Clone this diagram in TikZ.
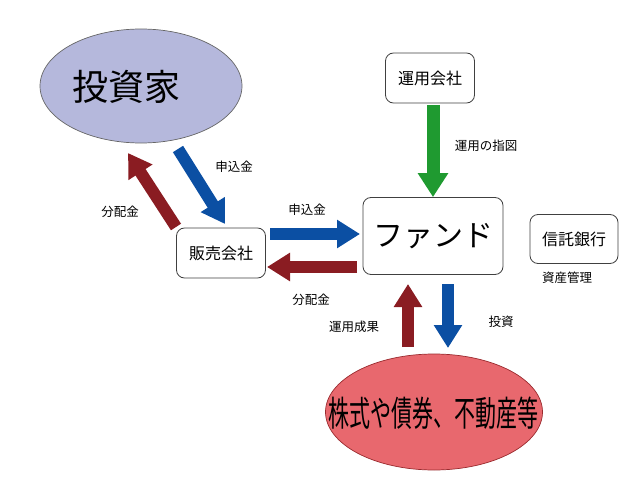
\documentclass[tikz,border=0pt]{standalone}
\usepackage{fontspec}
\usepackage{graphicx}
\setmainfont{Noto Sans CJK JP}
\usetikzlibrary{arrows.meta,shapes.geometric}
\definecolor{invfill}{HTML}{B5B8DC}
\definecolor{assetfill}{HTML}{E8686E}
\definecolor{assetline}{HTML}{9A2A2E}
\definecolor{ablue}{HTML}{0B4FA3}
\definecolor{ared}{HTML}{8A1C22}
\definecolor{agreen}{HTML}{1F9A30}
\tikzset{
  box/.style={draw=black!75, line width=0.8pt, rounded corners=8pt, fill=white, inner sep=0pt},
  lbl/.style={font=\fontsize{12.5}{14}\selectfont, inner sep=0pt},
  fat/.style={line width=12pt, -{Triangle[width=27pt,length=23pt]}},
}
\begin{document}
\begin{tikzpicture}[x=1pt,y=-1pt]
\useasboundingbox (0,0) rectangle (643,503);
% investor
\node[ellipse, draw=black!60, line width=0.7pt, fill=invfill, minimum width=202pt, minimum height=114pt, inner sep=0pt] (inv) at (141,86) {};
\node[font=\fontsize{36}{40}\selectfont, inner sep=0pt] (invt) at (126,87) {投資家};
% boxes
\node[box, minimum width=89pt, minimum height=50pt, font=\fontsize{16}{18}\selectfont] (sales) at (221,253) {販売会社};
\node[box, minimum width=140pt, minimum height=77pt, font=\fontsize{30}{34}\selectfont] (fund) at (433,236) {ファンド};
\node[box, minimum width=89pt, minimum height=50pt, font=\fontsize{16}{18}\selectfont] (unyo) at (430,78) {運用会社};
\node[box, minimum width=88pt, minimum height=49pt, font=\fontsize{16}{18}\selectfont] (trust) at (574,239) {信託銀行};
\node[lbl] (tl) at (567,278) {資産管理};
% assets
\node[ellipse, draw=assetline, line width=0.7pt, fill=assetfill, minimum width=217pt, minimum height=116pt, inner sep=0pt] (asset) at (434,412) {};
\node[inner sep=0pt] (assett) at (433,413) {\scalebox{0.6}[1]{\fontsize{35}{40}\selectfont 株式や債券、不動産等}};
% arrow coordinates
\coordinate (a1s) at (178,149); \coordinate (a1e) at (225,224);
\coordinate (a2s) at (176,227); \coordinate (a2e) at (128,153);
\coordinate (a3s) at (270,234); \coordinate (a3e) at (360,234);
\coordinate (a4s) at (357,267); \coordinate (a4e) at (267,267);
\coordinate (a5s) at (408,347); \coordinate (a5e) at (408,284);
\coordinate (a6s) at (448,284); \coordinate (a6e) at (448,348);
% arrows
\draw[fat, ablue] (a1s) -- (a1e);
\draw[fat, ared] (a2s) -- (a2e);
\draw[fat, ablue] (a3s) -- (a3e);
\draw[fat, ared] (a4s) -- (a4e);
\draw[fat, ared] (a5s) -- (a5e);
\draw[fat, ablue] (a6s) -- (a6e);
\draw[ agreen, line width=13pt, -{Triangle[width=29pt,length=24pt]}] (unyo.south -| fund.north) ++(0,2) -- (fund.north);
% labels
\node[lbl] (l1) at (234,167) {申込金};
\node[lbl] (l2) at (120,212) {分配金};
\node[lbl] (l3) at (307,210) {申込金};
\node[lbl] (l4) at (311,300) {分配金};
\node[lbl] (l5) at (354,327) {運用成果};
\node[lbl] (l6) at (501,322) {投資};
\node[lbl] (l7) at (486,146) {運用の指図};
\end{tikzpicture}
\end{document}
